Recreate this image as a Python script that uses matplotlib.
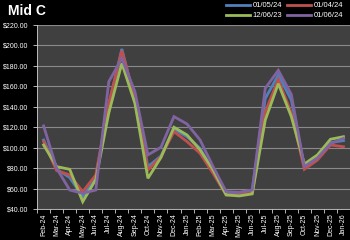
import matplotlib
matplotlib.use("Agg")
import matplotlib.pyplot as plt
import numpy as np

months = ["Feb-24", "Mar-24", "Apr-24", "May-24", "Jun-24", "Jul-24", "Aug-24",
          "Sep-24", "Oct-24", "Nov-24", "Dec-24", "Jan-25", "Feb-25", "Mar-25",
          "Apr-25", "May-25", "Jun-25", "Jul-25", "Aug-25", "Sep-25", "Oct-25",
          "Nov-25", "Dec-25", "Jan-26"]

s_010524 = [107.6, 79, 71, 52.3, 71, 141.8, 196.4, 146.6, 81.6, 92, 118, 110.8,
            99.5, 76.5, 55.6, 56, 58.8, 148, 171, 146.6, 81, 89.7, 105, 107]
s_010424 = [106, 77.7, 73.5, 57.2, 73.4, 143.4, 194.7, 148.3, 78.3, 91.3, 115.7, 106,
            94.6, 75, 54, 54, 56, 135, 166.5, 133.7, 79, 88, 102.7, 101]
s_120623 = [102.7, 81.6, 79, 47.4, 69, 134, 182.4, 143.4, 70.2, 90.5, 120, 112.5,
            97.9, 78.3, 54, 53, 55, 127, 162.5, 130.4, 84.2, 93, 108.3, 110.8]
s_010624 = [121.3, 80, 58.8, 55.6, 58.8, 164.5, 187, 154.8, 93, 100.5, 130.4, 123.2,
            107.6, 81.6, 57.2, 56.6, 58.8, 158, 175.5, 152, 81.6, 90, 104, 109.2]

series = [("01/05/24", s_010524, "#4F81BD"),
          ("01/04/24", s_010424, "#C0504D"),
          ("12/06/23", s_120623, "#9BBB59"),
          ("01/06/24", s_010624, "#8064A2")]

plt.rcParams['font.family'] = ['Liberation Sans', 'DejaVu Sans']

fig = plt.figure(figsize=(3.5, 2.4), dpi=100, facecolor="black")
ax = fig.add_axes([0.106, 0.128, 0.894, 0.769])
ax.set_facecolor("#404040")

x = np.arange(len(months))
lines = []
for name, vals, col in series:
    ln, = ax.plot(x, vals, color=col, lw=2.0, label=name, solid_joinstyle="miter")
    lines.append(ln)

ax.set_xlim(-0.5, len(months) - 0.5)
ax.set_ylim(40, 220)
ax.set_yticks(np.arange(40, 221, 20))
ax.set_yticklabels(["${:.2f}".format(v) for v in np.arange(40, 221, 20)])
ax.yaxis.grid(True, color="#8a8a8a", lw=0.8)
ax.set_axisbelow(True)

ax.set_xticks(x)
ax.set_xticklabels(months, rotation=90)
ax.set_xticks(np.arange(-0.5, len(months), 1), minor=True)
ax.tick_params(axis="x", which="major", length=0, colors="white", labelsize=5, pad=3)
ax.tick_params(axis="x", which="minor", length=3, color="#d0d0d0", width=0.6)
ax.tick_params(axis="y", colors="white", labelsize=5, length=3, color="#d0d0d0", width=0.6)

for side in ["top", "right"]:
    ax.spines[side].set_visible(False)
for side in ["left", "bottom"]:
    ax.spines[side].set_color("#d0d0d0")
    ax.spines[side].set_linewidth(0.6)

fig.text(0.023, 0.955, "Mid C", color="white", fontsize=10, fontweight="bold",
         va="center", ha="left")

# legend fills column by column: order so rows read blue/red, green/purple
leg = fig.legend(handles=[lines[0], lines[2], lines[1], lines[3]], ncol=2,
                 loc="upper right", bbox_to_anchor=(1.0, 1.02), frameon=False,
                 fontsize=5.5, labelcolor="white", handlelength=3.2,
                 handletextpad=0.3, columnspacing=0.6, labelspacing=0.35)

fig.savefig("out.png", dpi=100, facecolor="black")
